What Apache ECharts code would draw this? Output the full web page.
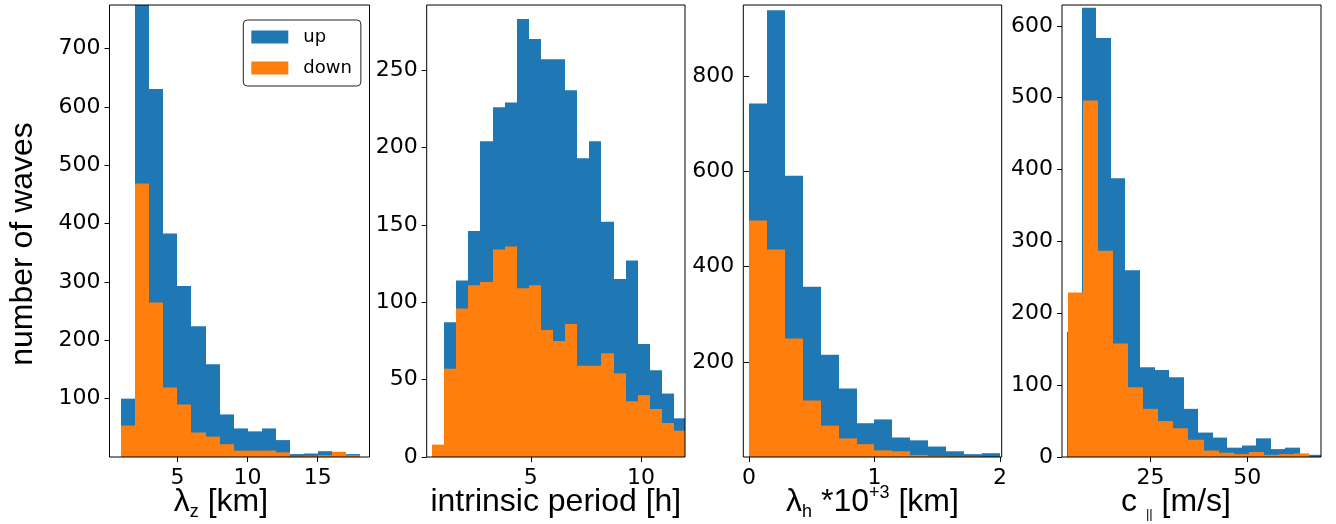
<!DOCTYPE html>
<html>
<head>
<meta charset="utf-8">
<script src="https://cdn.jsdelivr.net/npm/echarts@6/dist/echarts.min.js"></script>
<style>
html,body{margin:0;padding:0;background:#fff;}
#chart{width:1336px;height:524px;}
</style>
</head>
<body>
<div id="chart"></div>
<script>
// ---- Data (histogram counts) ----
const seriesNames = ['up', 'down'];

// Panel 1: vertical wavelength lambda_z [km]
const lzBinStartUp = 1, lzBinWidthUp = 1;
const lzBinStartDown = 1, lzBinWidthDown = 1;
const lzUp   = [100, 820, 631, 383, 293, 224, 159, 73, 49, 44, 49, 29, 5, 6, 10, 5, 5];
const lzDown = [54, 469, 265, 119, 90, 42, 35, 22, 11, 11, 11, 8, 1, 2, 3, 9, 3];

// Panel 2: intrinsic period [h]
const perBinStartUp = 0.52, perBinWidthUp = 0.549;
const perBinStartDown = 0.52, perBinWidthDown = 0.549;
const perUp   = [3, 87, 114, 146, 204, 226, 229, 283, 270, 257, 257, 237, 193, 204, 152, 115, 127, 73, 56, 41, 25];
const perDown = [8, 57, 96, 111, 113, 134, 136, 109, 111, 82, 75, 86, 59, 59, 67, 54, 36, 40, 31, 22, 17];

// Panel 3: horizontal wavelength lambda_h * 10^3 [km]
const lhBinStartUp = 0, lhBinWidthUp = 2 / 14;
const lhBinStartDown = 0, lhBinWidthDown = 2 / 14;
const lhUp   = [743, 939, 591, 358, 215, 144, 71, 79, 41, 35, 22, 12, 6, 8];
const lhDown = [497, 436, 249, 119, 66, 39, 27, 14, 12, 4, 2, 1, 1, 0];

// Panel 4: c_parallel [m/s]
const cBinStartUp = 3.51, cBinWidthUp = 3.755;
const cBinStartDown = 3.69, cBinWidthDown = 3.89;
const cUp   = [174, 625, 583, 388, 260, 125, 121, 111, 67, 34, 27, 13, 16, 26, 11, 13, 3, 3];
const cDown = [229, 496, 287, 158, 97, 67, 50, 40, 24, 9, 6, 4, 7, 3, 4, 5];

// Tick labels
const lzXTicks = [5, 10, 15];
const perXTicks = [5, 10];
const lhXTicks = [0, 1, 2];
const cXTicks = [25, 50];
const lzYTicks = [100, 200, 300, 400, 500, 600, 700];
const perYTicks = [0, 50, 100, 150, 200, 250];
const lhYTicks = [200, 400, 600, 800];
const cYTicks = [0, 100, 200, 300, 400, 500, 600];

const yTitle = 'number of waves';

// ---- Build ----
const BLUE = '#1f77b4', ORANGE = '#ff7f0e';

function bins(start, width, counts) {
  return counts.map((c, i) => [start + i * width, start + (i + 1) * width, c]);
}

function renderBar(params, api) {
  const x0 = api.value(0), x1 = api.value(1), v = api.value(2);
  const p0 = api.coord([x0, 0]);
  const p1 = api.coord([x1, v]);
  const cs = params.coordSys;
  const left = Math.round(p0[0]), right = Math.round(p1[0]);
  const rect = { x: left, y: p1[1], width: right - left, height: p0[1] - p1[1] };
  const clipped = echarts.graphic.clipRectByRect(rect, { x: cs.x, y: cs.y, width: cs.width, height: cs.height });
  if (!clipped) return null;
  return { type: 'rect', shape: clipped, style: { fill: api.visual('color') } };
}

const grids = [
  { left: 109.5, width: 260, top: 5, height: 452 },
  { left: 426.7, width: 258.3, top: 5, height: 452 },
  { left: 743.3, width: 258.4, top: 5, height: 452 },
  { left: 1062, width: 259, top: 5, height: 452 }
].map(g => Object.assign({ show: true, borderColor: '#000', borderWidth: 1, backgroundColor: 'transparent', z: 10, containLabel: false, outerBoundsMode: 'none' }, g));

const tickFont = { fontFamily: 'DejaVu Sans', fontSize: 22, color: '#000' };

function xAxisCfg(gi, min, max, ticks, name, rich, pad) {
  return {
    type: 'value', gridIndex: gi, min: min, max: max, z: 11,
    axisLine: { show: false },
    axisTick: { show: true, length: 5, inside: false, lineStyle: { color: '#000', width: 1 }, customValues: ticks },
    axisLabel: Object.assign({ margin: 10, customValues: ticks }, tickFont),
    splitLine: { show: false },
    name: name, nameLocation: 'middle', nameGap: 27, nameMoveOverlap: false,
    nameTextStyle: { fontFamily: 'Liberation Sans', fontSize: 32, color: '#000', rich: rich || {}, padding: pad || 0 }
  };
}
function yAxisCfg(gi, max, ticks) {
  return {
    type: 'value', gridIndex: gi, min: 0, max: max, z: 11,
    axisLine: { show: false },
    axisTick: { show: true, length: 5, inside: false, lineStyle: { color: '#000', width: 1 }, customValues: ticks },
    axisLabel: Object.assign({ margin: 9, customValues: ticks }, tickFont),
    splitLine: { show: false }
  };
}

const sub = { fontFamily: 'Liberation Sans', fontSize: 18, lineHeight: 14, verticalAlign: 'bottom', color: '#000' };
const sup = { fontFamily: 'Liberation Sans', fontSize: 18, lineHeight: 14, verticalAlign: 'top', color: '#000' };
const main = { fontFamily: 'Liberation Sans', fontSize: 32, lineHeight: 37, color: '#000' };
const richSet = { m: main, sub: sub, sup: sup, bar: Object.assign({}, sub, { fontSize: 13 }) };

const xAxes = [
  xAxisCfg(0, 0.157, 18.69, lzXTicks, '{m|λ}{sub|z}{m| [km]}', richSet, [0, 37, 0, 0]),
  xAxisCfg(1, 0.277, 11.995, perXTicks, '{m|intrinsic period [h]}', richSet, 0),
  xAxisCfg(2, -0.045, 2.0135, lhXTicks, '{m|λ}{sub|h}{m| *10}{sup|+3}{m| [km]}', richSet, 0),
  xAxisCfg(3, 2.14, 69.03, cXTicks, '{m|c }{bar|||}{m| [m/s]}', richSet, [0, 31, 0, 0])
];
const yAxes = [
  yAxisCfg(0, 775, lzYTicks),
  yAxisCfg(1, 292, perYTicks),
  yAxisCfg(2, 950, lhYTicks),
  yAxisCfg(3, 629, cYTicks)
];

const panelData = [
  [bins(lzBinStartUp, lzBinWidthUp, lzUp), bins(lzBinStartDown, lzBinWidthDown, lzDown)],
  [bins(perBinStartUp, perBinWidthUp, perUp), bins(perBinStartDown, perBinWidthDown, perDown)],
  [bins(lhBinStartUp, lhBinWidthUp, lhUp), bins(lhBinStartDown, lhBinWidthDown, lhDown)],
  [bins(cBinStartUp, cBinWidthUp, cUp), bins(cBinStartDown, cBinWidthDown, cDown)]
];

const series = [];
panelData.forEach((pair, gi) => {
  pair.forEach((data, si) => {
    series.push({
      type: 'custom', name: seriesNames[si], xAxisIndex: gi, yAxisIndex: gi,
      renderItem: renderBar, data: data, encode: { x: [0, 1], y: 2 },
      itemStyle: { color: si === 0 ? BLUE : ORANGE }, z: 2 + si, silent: true, animation: false
    });
  });
});

const option = {
  animation: false,
  color: [BLUE, ORANGE],
  grid: grids,
  xAxis: xAxes,
  yAxis: yAxes,
  legend: {
    data: seriesNames, orient: 'vertical', left: 243.3, top: 20,
    itemWidth: 37, itemHeight: 13, itemGap: 13, icon: 'rect',
    padding: [8, 9, 9, 8], borderColor: '#222', borderWidth: 1, borderRadius: 4,
    backgroundColor: 'rgba(255,255,255,0.8)',
    textStyle: { fontFamily: 'DejaVu Sans', fontSize: 18, color: '#000', padding: [0, 0, 0, 10] }
  },
  graphic: [{
    type: 'text', x: 23, y: 244, rotation: Math.PI / 2,
    style: { text: yTitle, fontFamily: 'Liberation Sans', fontSize: 32, fill: '#000', align: 'center', verticalAlign: 'middle' }
  }],
  series: series
};

const chart = echarts.init(document.getElementById('chart'), null, { renderer: 'canvas' });
chart.setOption(option);
</script>
</body>
</html>
